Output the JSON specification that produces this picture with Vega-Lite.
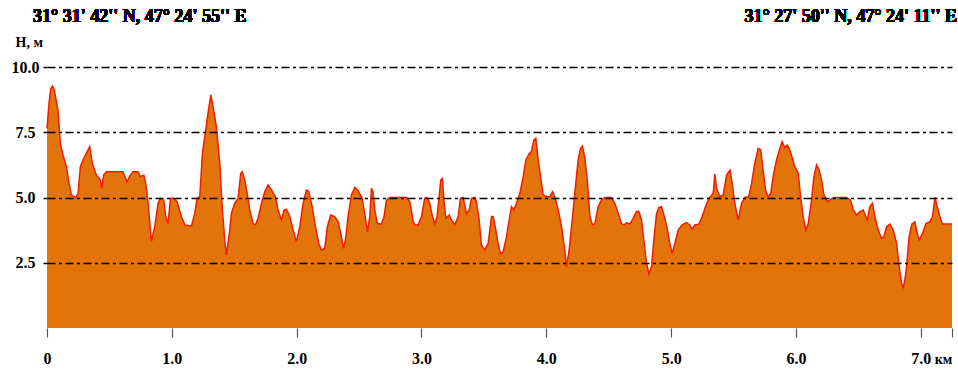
{
  "$schema": "https://vega.github.io/schema/vega-lite/v6.json",
  "width": 905,
  "height": 261,
  "autosize": {"type": "none"},
  "padding": {"left": 47, "top": 67, "right": 6, "bottom": 41},
  "background": "white",
  "config": {
    "view": {"stroke": null},
    "axis": {"labelFont": "Liberation Serif", "labelFontWeight": "bold", "labelColor": "black", "titleFont": "Liberation Serif", "titleFontWeight": "bold", "titleColor": "black"}
  },
  "data": {"values": [
    {"d":0.000,"h":7.65},{"d":0.016,"h":8.6},{"d":0.030,"h":9.17},{"d":0.043,"h":9.27},{"d":0.059,"h":9.12},{"d":0.075,"h":8.67},{"d":0.088,"h":8.35},{"d":0.107,"h":7.07},{"d":0.128,"h":6.63},{"d":0.155,"h":6.18},{"d":0.177,"h":5.54},{"d":0.195,"h":5.1},{"d":0.230,"h":5.0},{"d":0.249,"h":5.16},{"d":0.267,"h":6.18},{"d":0.289,"h":6.44},{"d":0.315,"h":6.69},{"d":0.342,"h":6.95},{"d":0.363,"h":6.31},{"d":0.395,"h":5.86},{"d":0.428,"h":5.67},{"d":0.438,"h":5.35},{"d":0.454,"h":5.86},{"d":0.476,"h":5.99},{"d":0.609,"h":5.99},{"d":0.641,"h":5.6},{"d":0.663,"h":5.82},{"d":0.689,"h":5.99},{"d":0.729,"h":5.99},{"d":0.748,"h":5.8},{"d":0.775,"h":5.86},{"d":0.791,"h":5.54},{"d":0.810,"h":4.78},{"d":0.836,"h":3.31},{"d":0.863,"h":3.88},{"d":0.890,"h":4.78},{"d":0.908,"h":4.97},{"d":0.935,"h":4.9},{"d":0.951,"h":4.26},{"d":0.970,"h":4.0},{"d":0.989,"h":4.97},{"d":1.015,"h":4.97},{"d":1.042,"h":4.84},{"d":1.077,"h":4.26},{"d":1.104,"h":3.95},{"d":1.157,"h":3.91},{"d":1.184,"h":4.39},{"d":1.202,"h":4.97},{"d":1.224,"h":5.03},{"d":1.245,"h":6.69},{"d":1.264,"h":7.33},{"d":1.290,"h":8.22},{"d":1.312,"h":8.93},{"d":1.330,"h":8.49},{"d":1.357,"h":7.71},{"d":1.384,"h":6.31},{"d":1.405,"h":4.52},{"d":1.424,"h":3.37},{"d":1.437,"h":2.8},
    {"d":1.464,"h":3.75},{"d":1.477,"h":4.39},{"d":1.504,"h":4.78},{"d":1.531,"h":4.97},{"d":1.552,"h":5.93},{"d":1.563,"h":5.99},{"d":1.584,"h":5.67},{"d":1.606,"h":5.1},{"d":1.624,"h":4.52},{"d":1.651,"h":4.0},{"d":1.670,"h":3.95},{"d":1.691,"h":4.2},{"d":1.718,"h":4.78},{"d":1.744,"h":5.22},{"d":1.771,"h":5.48},{"d":1.798,"h":5.29},{"d":1.830,"h":5.03},{"d":1.851,"h":4.52},{"d":1.878,"h":4.14},{"d":1.899,"h":4.52},{"d":1.918,"h":4.55},{"d":1.945,"h":4.27},{"d":1.972,"h":3.75},{"d":1.998,"h":3.31},{"d":2.025,"h":3.88},{"d":2.052,"h":4.78},{"d":2.078,"h":5.29},{"d":2.097,"h":5.22},{"d":2.124,"h":4.65},{"d":2.151,"h":3.88},{"d":2.177,"h":3.24},{"d":2.198,"h":2.99},{"d":2.225,"h":3.05},{"d":2.246,"h":3.88},{"d":2.273,"h":4.33},{"d":2.305,"h":4.27},{"d":2.332,"h":4.07},{"d":2.353,"h":3.63},{"d":2.374,"h":3.05},{"d":2.391,"h":3.37},{"d":2.412,"h":4.27},{"d":2.439,"h":5.1},{"d":2.466,"h":5.39},{"d":2.492,"h":5.26},{"d":2.524,"h":4.97},{"d":2.545,"h":4.39},{"d":2.567,"h":3.69},{"d":2.586,"h":4.27},{"d":2.599,"h":5.35},{"d":2.612,"h":5.22},{"d":2.626,"h":4.52},{"d":2.647,"h":4.0},{"d":2.679,"h":3.98},{"d":2.700,"h":4.27},{"d":2.719,"h":4.9},{"d":2.746,"h":5.0},{"d":2.880,"h":5.0},{"d":2.906,"h":4.84},{"d":2.933,"h":4.1},{"d":2.946,"h":3.95},
    {"d":2.973,"h":3.95},{"d":3.000,"h":4.27},{"d":3.026,"h":4.97},{"d":3.045,"h":5.0},{"d":3.066,"h":4.78},{"d":3.088,"h":4.27},{"d":3.106,"h":4.0},{"d":3.125,"h":4.27},{"d":3.141,"h":5.03},{"d":3.155,"h":5.67},{"d":3.168,"h":5.73},{"d":3.179,"h":4.9},{"d":3.195,"h":4.2},{"d":3.222,"h":4.33},{"d":3.240,"h":4.14},{"d":3.267,"h":3.95},{"d":3.294,"h":4.27},{"d":3.312,"h":4.97},{"d":3.334,"h":5.0},{"d":3.360,"h":4.39},{"d":3.382,"h":4.52},{"d":3.400,"h":4.97},{"d":3.427,"h":5.0},{"d":3.440,"h":4.84},{"d":3.462,"h":4.14},{"d":3.480,"h":3.18},{"d":3.507,"h":2.99},{"d":3.534,"h":3.24},{"d":3.561,"h":4.27},{"d":3.574,"h":4.27},{"d":3.596,"h":3.75},{"d":3.614,"h":3.24},{"d":3.633,"h":2.84},{"d":3.654,"h":2.92},{"d":3.681,"h":3.5},{"d":3.707,"h":4.27},{"d":3.721,"h":4.65},{"d":3.740,"h":4.52},{"d":3.761,"h":4.78},{"d":3.788,"h":5.16},{"d":3.815,"h":5.8},{"d":3.836,"h":6.44},{"d":3.863,"h":6.69},{"d":3.881,"h":6.76},{"d":3.900,"h":7.2},{"d":3.916,"h":7.27},{"d":3.935,"h":6.44},{"d":3.954,"h":5.8},{"d":3.975,"h":5.1},{"d":4.002,"h":5.03},{"d":4.028,"h":5.03},{"d":4.050,"h":5.22},{"d":4.068,"h":5.03},{"d":4.095,"h":4.52},{"d":4.122,"h":3.88},{"d":4.148,"h":2.99},{"d":4.162,"h":2.35},{"d":4.183,"h":2.99},{"d":4.210,"h":4.27},{"d":4.236,"h":5.54},{"d":4.255,"h":6.44},{"d":4.274,"h":6.88},{"d":4.290,"h":6.97},{"d":4.309,"h":6.5},{"d":4.328,"h":5.67},{"d":4.349,"h":4.27},{"d":4.370,"h":3.95},{"d":4.389,"h":4.0},
    {"d":4.415,"h":4.65},{"d":4.442,"h":4.9},{"d":4.469,"h":5.0},{"d":4.522,"h":5.0},{"d":4.549,"h":4.78},{"d":4.576,"h":4.39},{"d":4.602,"h":4.0},{"d":4.624,"h":3.95},{"d":4.642,"h":4.04},{"d":4.669,"h":3.98},{"d":4.696,"h":4.2},{"d":4.722,"h":4.46},{"d":4.741,"h":4.46},{"d":4.763,"h":4.14},{"d":4.784,"h":3.24},{"d":4.803,"h":2.48},{"d":4.822,"h":2.07},{"d":4.843,"h":2.35},{"d":4.864,"h":3.5},{"d":4.883,"h":4.39},{"d":4.902,"h":4.62},{"d":4.923,"h":4.65},{"d":4.950,"h":4.2},{"d":4.971,"h":3.75},{"d":4.989,"h":3.24},{"d":5.008,"h":2.86},{"d":5.030,"h":3.24},{"d":5.056,"h":3.75},{"d":5.088,"h":3.95},{"d":5.123,"h":4.04},{"d":5.150,"h":3.95},{"d":5.168,"h":3.78},{"d":5.190,"h":3.95},{"d":5.222,"h":3.98},{"d":5.249,"h":4.27},{"d":5.275,"h":4.65},{"d":5.302,"h":4.97},{"d":5.337,"h":5.16},{"d":5.350,"h":5.9},{"d":5.364,"h":5.35},{"d":5.390,"h":5.03},{"d":5.417,"h":5.1},{"d":5.444,"h":5.86},{"d":5.471,"h":6.05},{"d":5.489,"h":5.54},{"d":5.510,"h":4.78},{"d":5.537,"h":4.14},{"d":5.564,"h":4.78},{"d":5.590,"h":5.0},{"d":5.622,"h":5.03},{"d":5.644,"h":5.54},{"d":5.670,"h":6.31},{"d":5.697,"h":6.88},{"d":5.718,"h":6.82},{"d":5.737,"h":6.05},{"d":5.756,"h":5.29},{"d":5.777,"h":5.03},{"d":5.798,"h":5.16},{"d":5.817,"h":5.8},{"d":5.844,"h":6.44},{"d":5.871,"h":6.88},{"d":5.889,"h":7.14},
    {"d":5.911,"h":6.9},{"d":5.930,"h":7.01},{"d":5.946,"h":6.88},{"d":5.965,"h":6.6},{"d":5.991,"h":6.18},{"d":6.018,"h":5.93},{"d":6.037,"h":5.03},{"d":6.058,"h":4.27},{"d":6.079,"h":3.75},{"d":6.098,"h":4.0},{"d":6.125,"h":4.9},{"d":6.144,"h":5.8},{"d":6.165,"h":6.25},{"d":6.186,"h":6.05},{"d":6.205,"h":5.67},{"d":6.224,"h":5.1},{"d":6.251,"h":4.84},{"d":6.272,"h":4.9},{"d":6.299,"h":5.0},{"d":6.405,"h":5.0},{"d":6.437,"h":4.9},{"d":6.459,"h":4.52},{"d":6.485,"h":4.33},{"d":6.512,"h":4.46},{"d":6.539,"h":4.52},{"d":6.571,"h":4.14},{"d":6.592,"h":4.65},{"d":6.613,"h":4.78},{"d":6.632,"h":4.27},{"d":6.659,"h":3.75},{"d":6.686,"h":3.43},{"d":6.704,"h":3.5},{"d":6.726,"h":3.88},{"d":6.752,"h":3.98},{"d":6.779,"h":3.75},{"d":6.806,"h":3.24},{"d":6.827,"h":2.35},{"d":6.846,"h":1.71},{"d":6.859,"h":1.52},{"d":6.880,"h":2.07},{"d":6.907,"h":3.5},{"d":6.928,"h":3.98},{"d":6.952,"h":4.07},{"d":6.971,"h":3.63},{"d":6.987,"h":3.37},{"d":7.014,"h":3.63},{"d":7.041,"h":4.0},{"d":7.073,"h":4.07},{"d":7.094,"h":4.27},{"d":7.113,"h":5.0},{"d":7.132,"h":4.65},{"d":7.153,"h":4.27},{"d":7.174,"h":3.98},{"d":7.25,"h":3.98}
  ]},
  "layer": [
    {
      "mark": {"type": "area", "color": "#E3730B", "opacity": 1, "line": {"color": "#F01E00", "strokeWidth": 1.5}},
      "encoding": {
        "x": {"field": "d", "type": "quantitative",
          "scale": {"domain": [0, 7.25], "nice": false, "zero": false},
          "axis": {"values": [0,1,2,3,4,5,6,7,7.25], "labelExpr": "datum.value == 0 ? '0' : (datum.value > 7.1 ? '' : format(datum.value, '.1f'))",
            "grid": false, "domain": false, "tickSize": 9, "tickColor": "#555", "tickWidth": 1.2,
            "labelFontSize": 16, "labelPadding": 13, "labelFlush": false,
            "title": "км", "titleFontSize": 14, "titleX": 896, "titleY": 35, "titleAlign": "center", "titleBaseline": "alphabetic"}},
        "y": {"field": "h", "type": "quantitative",
          "scale": {"domain": [0, 10], "nice": false},
          "axis": {"values": [2.5, 5, 7.5, 10], "labelExpr": "format(datum.value, '.1f')",
            "grid": true, "gridColor": "black", "gridWidth": 1.5, "gridOpacity": 1, "gridDash": [8, 3.5, 3, 3.5],
            "domain": false, "tickSize": 4, "tickColor": "black", "tickWidth": 1.5,
            "labelFontSize": 16, "labelAlign": "center", "labelPadding": 18, "labelBaseline": "middle",
            "title": "Н, м", "titleAngle": 0, "titleFontSize": 14, "titleX": -32, "titleY": -25, "titleAlign": "left", "titleBaseline": "middle",
            "zindex": 1}}
      }
    },
    {
      "mark": {"type": "text", "align": "left", "baseline": "middle", "dx": -14, "font": "Liberation Serif", "fontWeight": "bold", "fontSize": 18, "color": "black"},
      "encoding": {
        "x": {"datum": 0, "type": "quantitative"},
        "y": {"datum": 11.9, "type": "quantitative", "scale": {"domain": [0, 10], "nice": false}},
        "text": {"value": "31° 31' 42'' N, 47° 24' 55'' E"}
      }
    },
    {
      "mark": {"type": "text", "align": "right", "baseline": "middle", "dx": 5, "font": "Liberation Serif", "fontWeight": "bold", "fontSize": 18, "color": "black"},
      "encoding": {
        "x": {"datum": 7.25, "type": "quantitative"},
        "y": {"datum": 11.9, "type": "quantitative", "scale": {"domain": [0, 10], "nice": false}},
        "text": {"value": "31° 27' 50'' N, 47° 24' 11'' E"}
      }
    }
  ]
}
